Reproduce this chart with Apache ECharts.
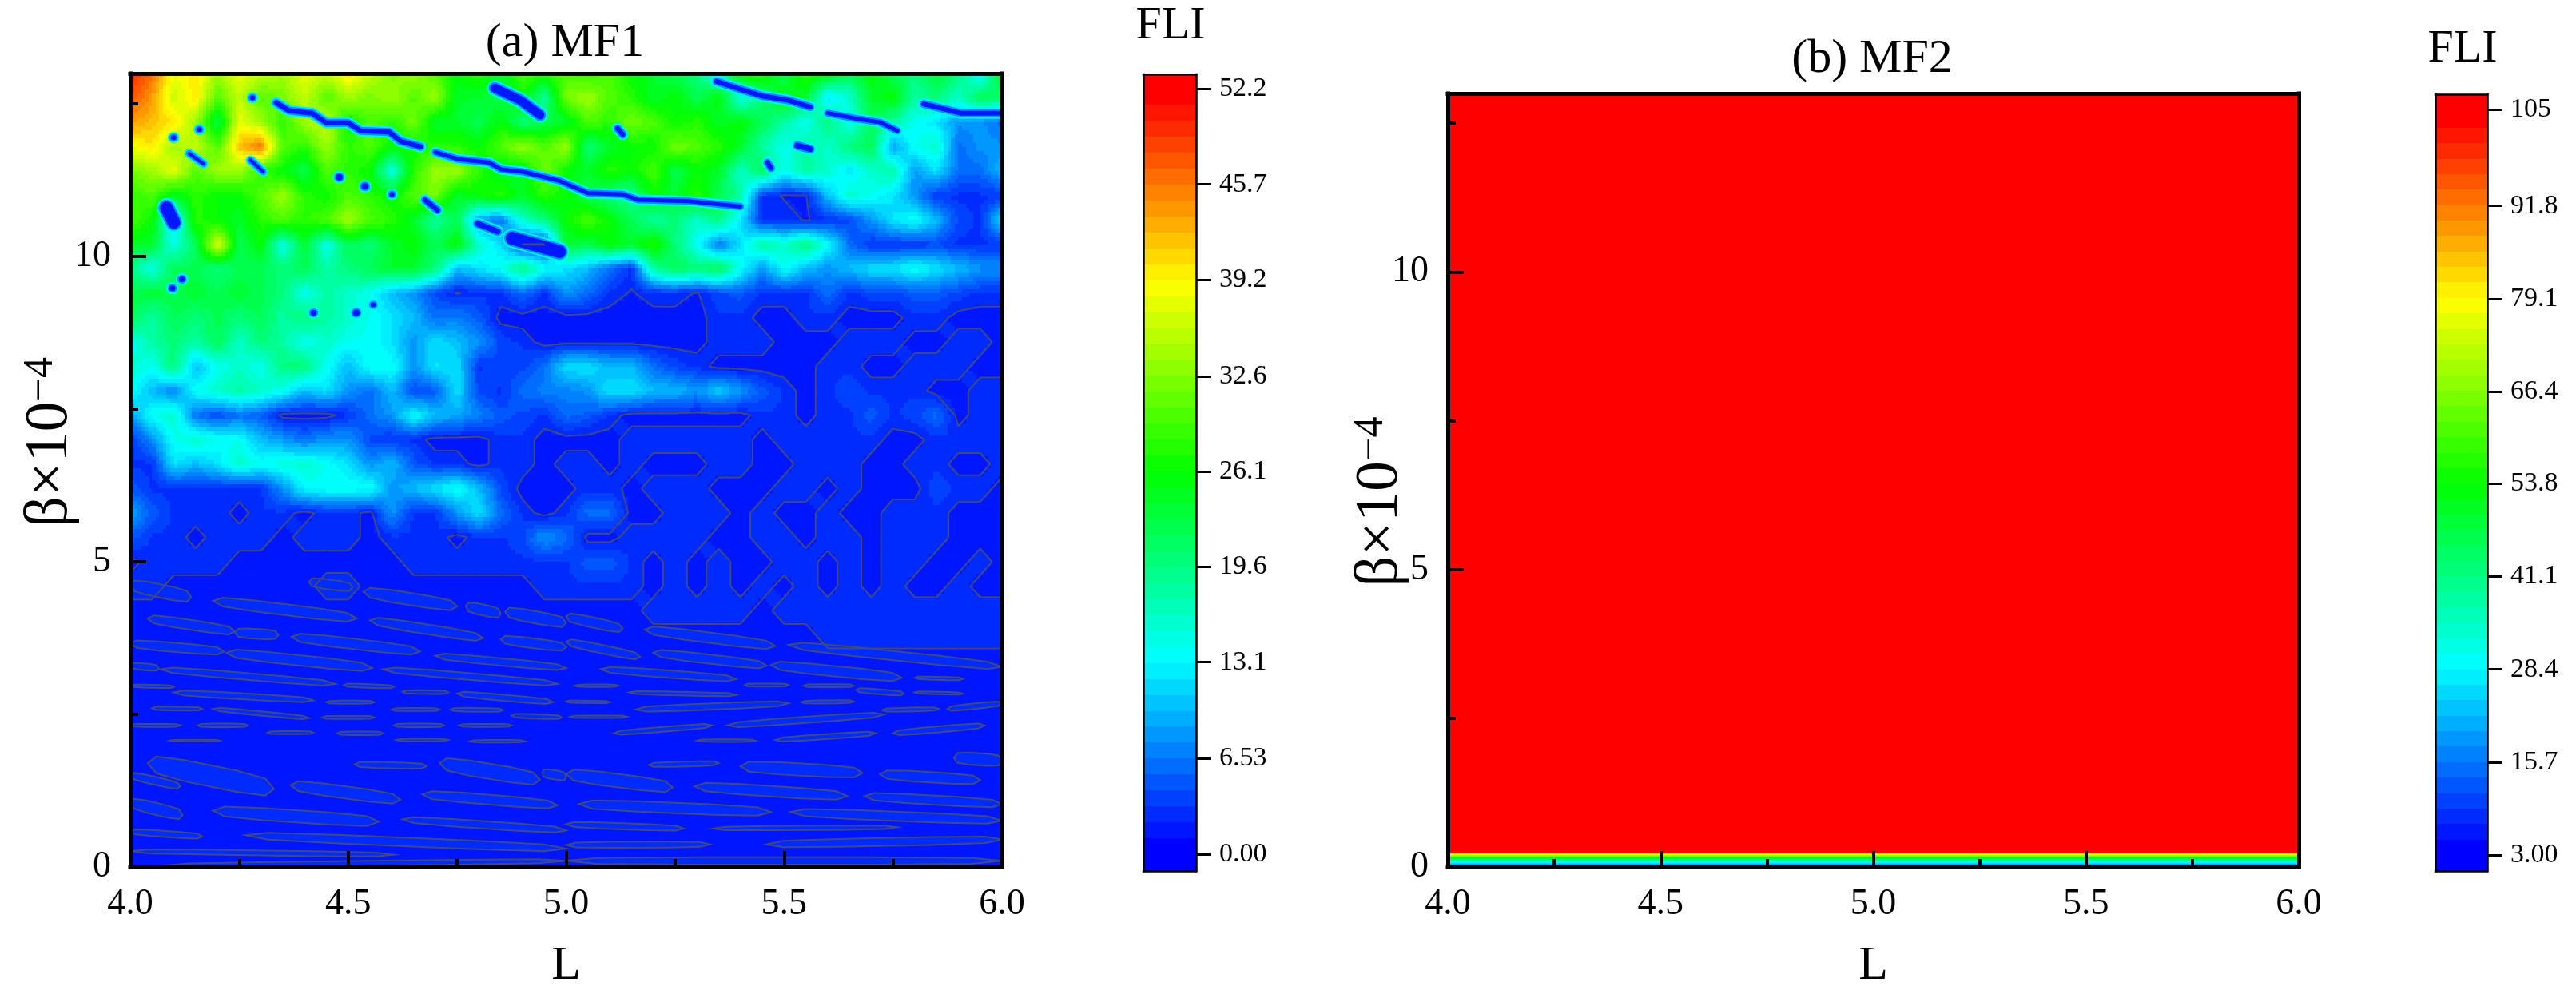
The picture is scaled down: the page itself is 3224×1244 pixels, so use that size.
<!DOCTYPE html>
<html><head><meta charset="utf-8">
<style>html,body{margin:0;padding:0;background:#fff}#c{width:3224px;height:1244px}</style>
<script src="https://cdn.jsdelivr.net/npm/echarts@6/dist/echarts.min.js"></script>
</head><body><div id="c"></div>
<script>
// L nodes 4.00..6.00 (every 0.05)
const mf1L=[4,4.05,4.1,4.15,4.2,4.25,4.3,4.35,4.4,4.45,4.5,4.55,4.6,4.65,4.7,4.75,4.8,4.85,4.9,4.95,5,5.05,5.1,5.15,5.2,5.25,5.3,5.35,5.4,5.45,5.5,5.55,5.6,5.65,5.7,5.75,5.8,5.85,5.9,5.95,6];
const mf1Beta=[13,12.6,12.2,11.8,11.4,11,10.6,10.2,9.8,9.4,9,8.6,8.2,7.8,7.4,7,6.6,6.2,5.8,5.4,5,4.6,4.2,3.8,3.4,0];
const fli130=[50,46,38,40,34,38,36,34,38,36,40,36,32,34,30,26,28,24,30,28,30,28,30,26,24,22,20,12,28,28,22,28,26,22,26,22,20,24,20,12,26];
const fli126=[48,44,36,40,30,36,30,32,36,30,34,32,34,30,34,24,24,22,26,18,32,34,30,28,24,26,22,26,14,20,26,24,12,16,24,26,18,20,16,22,20];
const fli122=[44,42,40,34,22,38,34,28,34,36,26,30,28,32,24,24,22,26,20,22,24,30,28,32,30,26,28,24,26,22,18,14,20,14,22,18,14,12,8,8,6];
const fli118=[38,40,34,36,30,42,46,30,28,34,28,30,26,26,28,28,26,30,34,30,34,20,24,26,26,32,30,28,24,18,14,18,16,20,22,8,14,16,6,8,8];
const fli114=[32,34,38,30,34,34,28,26,22,30,28,26,14,28,34,34,28,24,24,32,26,24,28,26,30,22,26,24,16,22,14,18,16,12,16,18,8,12,6,6,10];
const fli110=[28,30,24,28,26,26,30,34,28,26,30,28,26,30,32,24,26,28,24,28,26,22,20,18,26,24,28,22,18,3,2,2,10,16,14,12,8,3,3,3,3];
const fli106=[30,26,12,28,26,24,28,30,28,30,34,30,28,24,18,22,8,6,16,20,26,30,26,22,18,20,16,20,12,3,3,2,3,4,8,12,14,10,4,3,12];
const fli102=[24,24,14,22,38,22,26,14,24,14,22,20,24,26,22,26,16,12,2,2,24,22,26,24,28,20,14,6,12,18,16,20,14,6,3,3,3,4,3,3,3];
const fli98=[20,14,22,22,20,22,22,20,22,18,20,22,24,24,20,10,12,14,20,14,12,10,6,3,18,22,20,22,14,8,14,10,8,10,12,12,14,12,10,8,8];
const fli94=[22,24,22,24,22,24,22,20,14,18,16,14,10,8,4,2,3,3,6,3,8,6,3,2,3,3,2,4,5,3,3,3,6,3,4,4,5,5,4,3,3];
const fli90=[22,18,22,20,22,20,22,18,20,18,16,14,12,10,6,7,5,1.5,1.5,1.5,1.5,1.5,1.5,1.5,1.5,1.5,1.5,3,3,1.5,1.5,3,3,1.5,1.5,1.5,3,3,1.5,1.5,1.5];
const fli86=[14,18,20,18,22,16,20,18,14,16,14,14,12,8,12,10,8,4,3,1.5,1.5,1.5,1.5,1.5,1.5,1.5,1.5,3,3,3,1.5,1.5,1.5,3,3,3,1.5,1.5,3,3,1.5];
const fli82=[16,14,20,10,14,16,14,20,20,14,10,14,14,8,12,12,3,4,4,6,12,12,10,10,6,4,3,1.5,1.5,1.5,1.5,1.5,3,3,1.5,1.5,3,3,3,1.5,1.5];
const fli78=[14,10,7,14,16,18,16,14,10,12,8,6,10,4,5,12,4,3,6,7,7,8,12,12,10,10,8,11,8,5,3,1.5,3,4,3,3,3,1.5,1.5,3,3];
const fli74=[8,14,16,6,4,6,5,1.5,1.5,1.5,3,6,8,14,10,9,7,5,4,3,6,5,3,1.5,1.5,1.5,1.5,1.5,1.5,3,3,1.5,3,3,5,3,4,6,1.5,3,3];
const fli70=[3,8,14,16,14,14,10,8,6,8,8,4,3,3,1.5,1.5,1.5,3,3,1.5,1.5,1.5,1.5,3,3,3,3,3,3,1.5,3,3,3,3,3,1.5,1.5,3,3,3,3];
const fli66=[3,3,12,10,12,16,14,15,16,14,12,8,10,5,3,3,1.5,3,3,1.5,3,3,1.5,3,1.5,1.5,1.5,3,3,1.5,1.5,3,3,3,1.5,1.5,3,3,1.5,1.5,3];
const fli62=[5,3,3,3,3,3,3,8,13,14,14,14,8,10,12,14,10,4,1.5,1.5,1.5,3,3,1.5,3,3,3,1.5,1.5,1.5,3,3,1.5,3,1.5,1.5,1.5,4,3,3,1.5];
const fli58=[9,5,3,3,3,1.5,3,3,1.5,3,3,1.5,8,3,3,8,12,6,3,1.5,3,6,6,1.5,1.5,3,3,3,1.5,3,1.5,1.5,3,1.5,1.5,3,3,3,1.5,1.5,1.5];
const fli54=[5,3,3,1.5,3,3,3,1.5,3,3,3,1.5,3,3,3,1.5,3,3,4,8,6,1.5,1.5,3,3,3,3,1.5,1.5,3,3,1.5,3,3,1.5,3,3,3,1.5,1.5,1.5];
const fli50=[1.5,3,3,3,3,1.5,1.5,1.5,1.5,1.5,1.5,1.5,1.5,3,3,3,3,3,3,3,3,5,5,3,1.5,3,1.5,3,1.5,1.5,3,3,1.5,3,1.5,3,3,1.5,1.5,3,1.5];
const fli46=[3,3,1.5,1.5,1.5,1.5,1.5,1.5,1.5,3,3,1.5,1.5,1.5,1.5,1.5,1.5,1.5,1.5,3,3,3,3,3,1.5,3,1.5,3,1.5,3,1.5,3,1.5,3,1.5,3,1.5,1.5,3,1.5,1.5];
const fli42=[1.5,1.5,1.5,1.5,1.5,1.5,1.5,1.5,1.5,1.5,1.5,1.5,1.5,1.5,1.5,1.5,1.5,1.5,1.5,1.5,1.5,1.5,1.5,1.5,3,3,3,3,3,1.5,3,3,3,3,3,3,3,3,3,3,3];
const fli38=[1.5,1.5,1.5,1.5,1.5,1.5,1.5,1.5,1.5,1.5,1.5,1.5,1.5,1.5,1.5,1.5,1.5,1.5,1.5,1.5,1.5,1.5,1.5,1.5,1.5,1.5,1.5,1.5,1.5,1.5,1.5,1.5,3,3,3,3,3,3,3,3,3];
const fli34=[1.5,1.5,1.5,1.5,1.5,1.5,1.5,1.5,1.5,1.5,1.5,1.5,1.5,1.5,1.5,1.5,1.5,1.5,1.5,1.5,1.5,1.5,1.5,1.5,1.5,1.5,1.5,1.5,1.5,1.5,1.5,1.5,1.5,1.5,1.5,1.5,1.5,1.5,1.5,1.5,1.5];
const fli00=[1.5,1.5,1.5,1.5,1.5,1.5,1.5,1.5,1.5,1.5,1.5,1.5,1.5,1.5,1.5,1.5,1.5,1.5,1.5,1.5,1.5,1.5,1.5,1.5,1.5,1.5,1.5,1.5,1.5,1.5,1.5,1.5,1.5,1.5,1.5,1.5,1.5,1.5,1.5,1.5,1.5];
const mf1Rows=[fli130,fli126,fli122,fli118,fli114,fli110,fli106,fli102,fli98,fli94,fli90,fli86,fli82,fli78,fli74,fli70,fli66,fli62,fli58,fli54,fli50,fli46,fli42,fli38,fli34,fli00];

// low-beta pockets: L start, beta start, L end, beta end, beta thickness
const mf1Pockets=[
[4,4.62,4.14,4.42,.22],[4.19,4.36,4.52,4.07,.18],[4.41,4.67,4.51,4.58,.16],[4.535,4.51,4.75,4.27,.2],[4.77,4.27,4.85,4.15,.18],[4.86,4.18,5,4,.2],
[4.04,4.07,4.24,3.86,.16],[4.24,3.84,4.34,3.8,.16],[4.55,4.04,4.81,3.75,.16],[4.37,3.77,4.665,3.53,.17],[4.85,3.73,5,3.6,.16],[4,3.66,4.215,3.53,.15],
[4.22,3.51,4.555,3.26,.17],[4.7,3.46,5,3.26,.12],[4,3.3,4.065,3.26,.11],[4.07,3.24,4.47,3,.11],[4.58,3.24,4.98,3,.11],[4,2.97,4.1,2.95,.05],
[4.1,2.86,4.42,2.73,.1],[4.49,2.98,4.605,2.95,.06],[4.625,2.87,4.73,2.86,.06],[4.75,2.84,4.97,2.7,.1],[4.45,2.7,4.56,2.7,.05],[4.05,2.6,4.165,2.59,.06],
[4.19,2.59,4.41,2.44,.07],[4.6,2.58,4.71,2.58,.05],[4.735,2.58,4.855,2.57,.06],[4.44,2.45,4.56,2.45,.05],[4.875,2.48,4.99,2.45,.07],[4,2.32,4.115,2.32,.05],
[4.155,2.32,4.27,2.32,.06],[4.605,2.32,4.72,2.32,.06],[4.755,2.32,4.875,2.32,.05],[4.315,2.2,4.42,2.2,.05],[4.475,2.19,4.58,2.19,.06],[4.09,2.07,4.205,2.07,.03],
[4.61,2.08,4.73,2.08,.04],[4.78,2.06,4.905,2.06,.04],[4.04,1.7,4.33,1.28,.35],[4.515,1.68,4.68,1.65,.1],[4.71,1.7,4.94,1.43,.25],[4.945,1.54,5,1.48,.15],
[4.368,1.34,4.62,1.1,.2],[4.67,1.19,4.98,1.01,.16],[4,1.5,4.115,1.32,.13],[4,1.05,4.12,.85,.2],[4.19,.92,4.57,.74,.2],[4.625,.78,5,.6,.12],
[4,.58,4.165,.5,.1],[4.265,.52,5,.3,.14],[4,.26,4.605,.2,.08],[4.07,.02,5,.1,.08],
[5,4.1,5.13,3.9,.17],[5.18,3.89,5.48,3.62,.17],[5,3.69,5.17,3.44,.14],[5.2,3.51,5.46,3.3,.15],[5.51,3.64,6,3.28,.15],[5.08,3.24,5.39,3.08,.12],
[5.47,3.31,5.77,3.1,.17],[5.8,3.1,5.91,3.08,.05],[5.02,2.97,5.12,2.97,.04],[5.41,2.98,5.51,2.98,.05],[5.545,2.97,5.66,2.97,.05],[5.665,2.9,5.775,2.84,.08],
[5.145,2.86,5.39,2.82,.06],[5.8,2.86,5.91,2.84,.04],[5,2.71,5.1,2.7,.04],[5.16,2.58,5.51,2.68,.1],[5.54,2.7,5.66,2.71,.05],[5.01,2.46,5.14,2.46,.04],
[5.37,2.32,5.73,2.5,.1],[5.725,2.57,5.855,2.59,.06],[5.875,2.59,6,2.68,.09],[5.11,2.19,5.335,2.32,.08],[5.3,2.07,5.435,2.07,.04],[5.48,2.08,5.71,2.19,.08],
[5.75,2.19,5.96,2.32,.1],[5.19,1.67,5.35,1.7,.08],[5.4,1.65,5.68,1.54,.2],[5.89,1.79,6,1.74,.2],[5.72,1.52,5.95,1.42,.17],[5,1.52,5.245,1.3,.22],
[5.295,1.32,5.645,1.16,.17],[5.03,1.03,5.47,.9,.17],[5.685,1.16,6,1.03,.15],[5.515,.9,6,.76,.15],[5,.7,5.27,.63,.1],[5.337,.63,5.76,.65,.07],
[5,.36,5.33,.37,.1],[5.46,.37,6,.45,.13],[5,.1,6,.1,.12]];

// narrow low-FLI channels and pockets in the chaotic zone: line weight, then L,beta pairs
const mf1Channels=[
[6,4.335,12.52,4.364,12.39,4.417,12.35,4.45,12.19,4.5,12.19,4.528,12.06,4.594,12.04,4.62,11.89,4.666,11.8],
[5,4.7,11.71,4.75,11.6,4.823,11.54,4.85,11.43,4.9,11.39,4.985,11.24,5.05,11.04,5.13,11.02,5.165,10.93,5.28,10.91,5.4,10.82],
[11,4.836,12.76,4.895,12.56,4.94,12.32],
[6,5.345,12.87,5.4,12.74,5.45,12.63,5.51,12.56,5.56,12.45],
[5,5.6,12.35,5.665,12.26,5.72,12.2,5.76,12.06],
[6,5.82,12.5,5.905,12.35,6,12.35],
[6,4.28,12.6,4.281,12.6],[6,4.158,12.08,4.159,12.08],[6,4.099,11.95,4.1,11.95],[4,4.135,11.69,4.168,11.52],[4,4.276,11.58,4.305,11.39],
[8,4.479,11.3,4.48,11.3],[8,4.538,11.15,4.539,11.15],[6,4.6,11.02,4.601,11.02],[6,4.676,10.93,4.705,10.76],[7,4.797,10.54,4.843,10.41],
[16,4.876,10.3,4.985,10.08],[16,4.083,10.8,4.1,10.56],[7,4.118,9.63,4.119,9.63],[7,4.096,9.48,4.097,9.48],[7,4.42,9.08,4.421,9.08],[8,4.518,9.08,4.519,9.08],
[6,4.557,9.21,4.558,9.21],[6,5.118,12.1,5.13,12.0],[6,5.462,11.54,5.47,11.45],[7,5.53,11.82,5.56,11.76]];

const mf2L=[4,6];
const mf2Beta=[13,.25,.22,.17,.1,.04,0];
const mf2Rows=[[105,105],[105,105],[82,82],[60,60],[34,34],[20,20],[3,3]];

const mf1Ticks=[0,6.53,13.1,19.6,26.1,32.6,39.2,45.7,52.2];
const mf1TickLabels=['0.00','6.53','13.1','19.6','26.1','32.6','39.2','45.7','52.2'];
const mf2Ticks=[3,15.7,28.4,41.1,53.8,66.4,79.1,91.8,105];
const mf2TickLabels=['3.00','15.7','28.4','41.1','53.8','66.4','79.1','91.8','105'];
const xTicks=['4.0','4.5','5.0','5.5','6.0'];

const SERIF='"Liberation Serif",serif';
const mf1Scale={start:0,step:1.0875,min:-1.14,max:53.2};
const mf2Scale={start:3,step:2.117,min:.82,max:107.07};
function ramp(t){t=Math.max(0,Math.min(1,t))*4;let r=0,g=0,b=0;
 if(t<1){g=t;b=1}else if(t<2){g=1;b=2-t}else if(t<3){r=t-2;g=1}else{r=1;g=4-t}
 return 'rgb('+Math.round(r*255)+','+Math.round(g*255)+','+Math.round(b*255)+')';}
function bandIndex(s,v){return Math.max(0,Math.min(47,Math.floor((v-s.start)/s.step)))}
const bandColor=i=>ramp(i/47);

function cells(Ls,Bs,rows){const out=[];
 for(let j=0;j<Bs.length-1;j++)for(let i=0;i<Ls.length-1;i++)
  out.push([Ls[i],Ls[i+1],Bs[j+1],Bs[j],rows[j+1][i],rows[j+1][i+1],rows[j][i],rows[j][i+1]]);
 return out}

function heatRender(scale,level){return function(p,api){
 const L0=api.value(0),L1=api.value(1),b0=api.value(2),b1=api.value(3);
 const v00=api.value(4),v10=api.value(5),v01=api.value(6),v11=api.value(7);
 const a=api.coord([L0,b0]),c=api.coord([L1,b1]);
 const x0=a[0],y0=a[1],w=c[0]-a[0],h=c[1]-a[1];
 const ch=[];
 const ids=[v00,v10,v01,v11].map(v=>bandIndex(scale,v));
 if(ids.every(q=>q===ids[0])){
  ch.push({type:'rect',shape:{x:Math.round(x0),y:Math.round(c[1]),width:Math.round(c[0])-Math.round(x0),height:Math.round(y0)-Math.round(c[1])},style:{fill:bandColor(ids[0])}});
 } else {
  const n=6;
  for(let q=0;q<n;q++)for(let r=0;r<n;r++){
   const u=(q+.5)/n,t=(r+.5)/n;
   const val=v00*(1-u)*(1-t)+v10*u*(1-t)+v01*(1-u)*t+v11*u*t;
   const xa=Math.round(x0+w*q/n),xb=Math.round(x0+w*(q+1)/n);
   const ya=Math.round(y0+h*(r+1)/n),yb=Math.round(y0+h*r/n);
   ch.push({type:'rect',shape:{x:xa,y:ya,width:xb-xa,height:yb-ya},style:{fill:bandColor(bandIndex(scale,val))}});
  }
 }
 if(level!=null){
  const pts=[];
  const edge=(va,vb,xa,ya,xb,yb)=>{if((va<level)!==(vb<level)){const f=(level-va)/(vb-va);pts.push([xa+(xb-xa)*f,ya+(yb-ya)*f])}};
  const X1=x0+w,Y1=y0+h;
  edge(v00,v10,x0,y0,X1,y0);edge(v10,v11,X1,y0,X1,Y1);edge(v11,v01,X1,Y1,x0,Y1);edge(v01,v00,x0,Y1,x0,y0);
  for(let k=0;k+1<pts.length;k+=2)ch.push({type:'line',z2:5,shape:{x1:pts[k][0],y1:pts[k][1],x2:pts[k+1][0],y2:pts[k+1][1]},style:{stroke:'#414a80',lineWidth:2}});
 }
 return {type:'group',children:ch};
}}
function pocketRender(p,api){
 const A=[api.value(0),api.value(1)],B=[api.value(2),api.value(3)],H=api.value(4);
 const prof=[[0,0],[.07,.8],[.3,1],[.7,1],[.93,.8],[1,0]];
 const up=prof.map(([t,k])=>api.coord([A[0]+(B[0]-A[0])*t,A[1]+(B[1]-A[1])*t+H/2*k]));
 const lo=prof.slice(1,-1).reverse().map(([t,k])=>api.coord([A[0]+(B[0]-A[0])*t,A[1]+(B[1]-A[1])*t-H/2*k]));
 return {type:'polygon',shape:{points:up.concat(lo)},style:{fill:bandColor(2),stroke:'#414a80',lineWidth:2}};
}
function channelRender(p,api){
 const c=mf1Channels[p.dataIndex],w=c[0],pts=[];
 for(let i=1;i<c.length;i+=2)pts.push(api.coord([c[i],c[i+1]]));
 const line=(lw,col)=>({type:'polyline',shape:{points:pts},style:{stroke:col,lineWidth:lw,fill:null,lineCap:'round',lineJoin:'round'}});
 return {type:'group',children:[line(w+8,'#00f0ff'),line(w+4,'#0090ff'),line(w,'#0018ff')]};
}
function cbarRender(scale){return function(p,api){
 const i=api.value(0);
 const lo=i===0?scale.min:scale.start+i*scale.step, hi=i===47?scale.max:scale.start+(i+1)*scale.step;
 const a=api.coord([0,lo]),b=api.coord([1,hi]);
 return {type:'rect',shape:{x:a[0],y:Math.round(b[1]),width:b[0]-a[0],height:Math.round(a[1])-Math.round(b[1])},style:{fill:bandColor(i)}};
}}

const grids=[
 {left:163,top:92,width:1091,height:998},
 {left:1431,top:93,width:66,height:997},
 {left:1812,top:117,width:1065,height:973},
 {left:3048,top:118,width:65,height:972}];

const sideLine={show:true,onZero:false,lineStyle:{color:'#000',width:5,cap:'square'}};
const thinLine={show:true,onZero:false,lineStyle:{color:'#000',width:2.5,cap:'square'}};
const none={show:false};
function plotAxes(g,nameGapX,nameGapY,yPad){
 return {x:[{type:'value',gridIndex:g,min:4,max:6,interval:.5,z:10,position:'bottom',axisLine:sideLine,
   axisTick:{show:true,inside:true,length:20,lineStyle:{color:'#000',width:4}},
   minorTick:{show:true,splitNumber:2,length:10,lineStyle:{color:'#000',width:4}},minorSplitLine:none,splitLine:none,
   axisLabel:{margin:24,fontFamily:SERIF,fontSize:46,color:'#000',formatter:v=>xTicks[Math.round((v-4)*2)],showMinLabel:true,showMaxLabel:true},
   name:'L',nameLocation:'middle',nameGap:nameGapX,nameTextStyle:{fontFamily:SERIF,fontSize:60,color:'#000'}},
  {type:'value',gridIndex:g,min:4,max:6,interval:.5,z:10,position:'top',axisLine:sideLine,axisTick:none,axisLabel:none,splitLine:none}],
 y:[{type:'value',gridIndex:g,min:0,max:13,interval:5,z:10,position:'left',axisLine:sideLine,
   axisTick:{show:true,inside:true,length:20,lineStyle:{color:'#000',width:4}},
   minorTick:{show:true,splitNumber:2,length:10,lineStyle:{color:'#000',width:4}},splitLine:none,
   axisLabel:{margin:24,fontFamily:SERIF,fontSize:46,color:'#000',showMinLabel:true,showMaxLabel:false},
   name:'{b|β×10}{s|−4}',nameLocation:'middle',nameGap:nameGapY,nameRotate:90,nameMoveOverlap:false,
   nameTextStyle:{color:'#000',fontFamily:SERIF,padding:[0,0,0,yPad],rich:{b:{fontFamily:SERIF,fontSize:76,color:'#000'},s:{fontFamily:SERIF,fontSize:52,color:'#000',verticalAlign:'top',padding:[0,0,22,0]}}}},
  {type:'value',gridIndex:g,min:0,max:13,interval:5,z:10,position:'right',axisLine:sideLine,axisTick:none,axisLabel:none,splitLine:none}]};
}
function barAxes(g,s,ticks,labels){
 const map=new Map(ticks.map((t,i)=>[t,labels[i]]));
 return {x:[{type:'value',gridIndex:g,min:0,max:1,z:10,position:'bottom',axisLine:thinLine,axisTick:none,axisLabel:none,splitLine:none},
  {type:'value',gridIndex:g,min:0,max:1,z:10,position:'top',axisLine:thinLine,axisTick:none,axisLabel:none,splitLine:none}],
 y:[{type:'value',gridIndex:g,min:s.min,max:s.max,z:10,position:'right',axisLine:thinLine,
   axisTick:{show:true,length:19,customValues:ticks,lineStyle:{color:'#000',width:3}},splitLine:none,
   axisLabel:{customValues:ticks,margin:29,fontFamily:SERIF,fontSize:34,color:'#000',formatter:v=>map.get(v)}},
  {type:'value',gridIndex:g,min:s.min,max:s.max,z:10,position:'left',axisLine:thinLine,axisTick:none,axisLabel:none,splitLine:none}]};
}
const A=[plotAxes(0,94,62,70),barAxes(1,mf1Scale,mf1Ticks,mf1TickLabels),plotAxes(2,94,46,-54),barAxes(3,mf2Scale,mf2Ticks,mf2TickLabels)];
const xAxis=[],yAxis=[];
A.forEach(a=>{xAxis.push(...a.x);yAxis.push(...a.y)});
const bands=[];for(let i=0;i<48;i++)bands.push([i]);
const tStyle=s=>({fontFamily:SERIF,fontWeight:'normal',fontSize:s,color:'#000'});
const title=[
 {text:'(a) MF1',left:707,top:54,textAlign:'center',textVerticalAlign:'middle',padding:0,textStyle:tStyle(60)},
 {text:'(b) MF2',left:2343,top:74,textAlign:'center',textVerticalAlign:'middle',padding:0,textStyle:tStyle(60)},
 {text:'FLI',left:1465,top:33,textAlign:'center',textVerticalAlign:'middle',padding:0,textStyle:tStyle(58)},
 {text:'FLI',left:3082,top:62,textAlign:'center',textVerticalAlign:'middle',padding:0,textStyle:tStyle(58)}];
const common={type:'custom',animation:false,silent:true,progressive:0,clip:true};
const series=[
 {...common,name:'MF1',xAxisIndex:0,yAxisIndex:0,renderItem:heatRender(mf1Scale,2.18),encode:{x:[0,1],y:[2,3]},data:cells(mf1L,mf1Beta,mf1Rows)},
 {...common,name:'MF1 pockets',xAxisIndex:0,yAxisIndex:0,renderItem:pocketRender,encode:{x:[0,2],y:[1,3]},data:mf1Pockets},
 {...common,name:'MF1 channels',xAxisIndex:0,yAxisIndex:0,renderItem:channelRender,data:mf1Channels.map(c=>[c[1],c[2]])},
 {...common,name:'MF1 colour bar',xAxisIndex:2,yAxisIndex:2,renderItem:cbarRender(mf1Scale),data:bands},
 {...common,name:'MF2',xAxisIndex:4,yAxisIndex:4,renderItem:heatRender(mf2Scale,null),encode:{x:[0,1],y:[2,3]},data:cells(mf2L,mf2Beta,mf2Rows)},
 {...common,name:'MF2 colour bar',xAxisIndex:6,yAxisIndex:6,renderItem:cbarRender(mf2Scale),data:bands}];
const chart=echarts.init(document.getElementById('c'),null,{renderer:'canvas',width:3224,height:1244});
chart.setOption({animation:false,backgroundColor:'#fff',title,grid:grids,xAxis,yAxis,series});
</script></body></html>
